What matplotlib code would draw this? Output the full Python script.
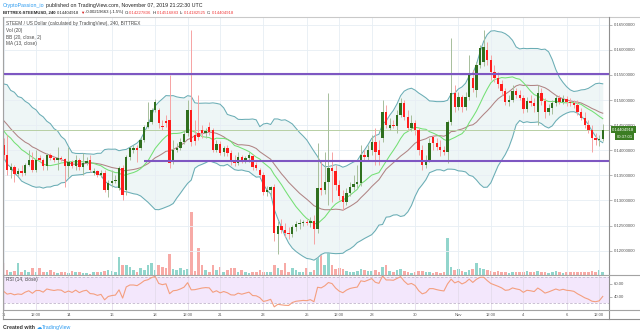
import matplotlib.pyplot as plt
from matplotlib.lines import Line2D
from matplotlib.ticker import FormatStrFormatter
import numpy as np
import pandas as pd

plt.rcParams['font.family'] = ['Liberation Sans', 'DejaVu Sans']

# BITTREX:STEEMUSD, 4h candles, Oct 11 - Nov 7 2019
# closes before Oct 11 (off screen), only used to warm up the indicators
warmup_close = [0.1520, 0.1540, 0.1505, 0.1510, 0.1470, 0.1480, 0.1455, 0.1475, 0.1445, 0.1465,
                0.1440, 0.1455, 0.1432, 0.1450, 0.1425, 0.1445, 0.1420, 0.1440, 0.1425]

open_ = [0.1410, 0.1390, 0.1360, 0.1366, 0.1352, 0.1358, 0.1354, 0.1370, 0.1380, 0.1360,
         0.1384, 0.1380, 0.1368, 0.1390, 0.1384, 0.1380, 0.1384, 0.1382, 0.1368, 0.1376,
         0.1368, 0.1380, 0.1366, 0.1374, 0.1380, 0.1354, 0.1358, 0.1350, 0.1354, 0.1320,
         0.1334, 0.1338, 0.1324, 0.1364, 0.1320, 0.1386, 0.1400, 0.1404, 0.1404, 0.1420,
         0.1446, 0.1456, 0.1480, 0.1480, 0.1448, 0.1458, 0.1460, 0.1380, 0.1400, 0.1404,
         0.1416, 0.1434, 0.1480, 0.1430, 0.1434, 0.1440, 0.1434, 0.1446, 0.1440, 0.1400,
         0.1412, 0.1396, 0.1404, 0.1394, 0.1376, 0.1374, 0.1386, 0.1378, 0.1384, 0.1388,
         0.1370, 0.1360, 0.1350, 0.1316, 0.1320, 0.1326, 0.1234, 0.1250, 0.1242, 0.1236,
         0.1234, 0.1248, 0.1254, 0.1256, 0.1258, 0.1256, 0.1260, 0.1244, 0.1324, 0.1320,
         0.1336, 0.1364, 0.1358, 0.1330, 0.1308, 0.1296, 0.1314, 0.1326, 0.1332, 0.1334,
         0.1390, 0.1386, 0.1400, 0.1416, 0.1400, 0.1424, 0.1476, 0.1444, 0.1450, 0.1448,
         0.1470, 0.1494, 0.1466, 0.1444, 0.1454, 0.1440, 0.1400, 0.1370, 0.1380, 0.1426,
         0.1414, 0.1406, 0.1400, 0.1396, 0.1456, 0.1514, 0.1486, 0.1506, 0.1486, 0.1506,
         0.1544, 0.1520, 0.1570, 0.1576, 0.1600, 0.1580, 0.1556, 0.1544, 0.1532, 0.1518,
         0.1496, 0.1500, 0.1518, 0.1510, 0.1504, 0.1482, 0.1498, 0.1494, 0.1476, 0.1514,
         0.1498, 0.1476, 0.1484, 0.1494, 0.1504, 0.1496, 0.1502, 0.1496, 0.1494, 0.1490,
         0.1476, 0.1464, 0.1450, 0.1440, 0.1424, 0.1420, 0.14227836]

high = [0.1424, 0.1430, 0.1374, 0.1370, 0.1364, 0.1370, 0.1374, 0.1400, 0.1396, 0.1400,
        0.1390, 0.1384, 0.1394, 0.1394, 0.1388, 0.1406, 0.1388, 0.1384, 0.1406, 0.1380,
        0.1390, 0.1384, 0.1394, 0.1386, 0.1390, 0.1364, 0.1360, 0.1360, 0.1360, 0.1340,
        0.1360, 0.1350, 0.1368, 0.1370, 0.1390, 0.1408, 0.1410, 0.1410, 0.1426, 0.1450,
        0.1496, 0.1484, 0.1502, 0.1484, 0.1460, 0.1470, 0.1550, 0.1420, 0.1414, 0.1424,
        0.1440, 0.1500, 0.1640, 0.1460, 0.1510, 0.1450, 0.1444, 0.1456, 0.1444, 0.1420,
        0.1418, 0.1408, 0.1410, 0.1400, 0.1390, 0.1396, 0.1390, 0.1388, 0.1396, 0.1392,
        0.1376, 0.1364, 0.1356, 0.1328, 0.1328, 0.1332, 0.1260, 0.1264, 0.1256, 0.1248,
        0.1252, 0.1260, 0.1264, 0.1262, 0.1264, 0.1268, 0.1270, 0.1414, 0.1380, 0.1396,
        0.1514, 0.1396, 0.1370, 0.1340, 0.1320, 0.1324, 0.1336, 0.1350, 0.1370, 0.1410,
        0.1400, 0.1410, 0.1430, 0.1444, 0.1420, 0.1500, 0.1490, 0.1464, 0.1460, 0.1480,
        0.1504, 0.1500, 0.1480, 0.1470, 0.1460, 0.1444, 0.1410, 0.1390, 0.1424, 0.1430,
        0.1424, 0.1420, 0.1408, 0.1460, 0.1624, 0.1530, 0.1516, 0.1510, 0.1516, 0.1590,
        0.1560, 0.1576, 0.1610, 0.1640, 0.1616, 0.1590, 0.1570, 0.1556, 0.1540, 0.1524,
        0.1510, 0.1530, 0.1524, 0.1520, 0.1510, 0.1506, 0.1510, 0.1504, 0.1530, 0.1524,
        0.1504, 0.1492, 0.1500, 0.1510, 0.1510, 0.1510, 0.1508, 0.1504, 0.1500, 0.1500,
        0.1484, 0.1476, 0.1460, 0.1450, 0.1434, 0.1430, 0.14516883]

low = [0.1380, 0.1350, 0.1344, 0.1336, 0.1348, 0.1348, 0.1350, 0.1368, 0.1356, 0.1356,
       0.1376, 0.1360, 0.1360, 0.1380, 0.1376, 0.1360, 0.1378, 0.1326, 0.1346, 0.1364,
       0.1360, 0.1360, 0.1350, 0.1370, 0.1356, 0.1350, 0.1346, 0.1346, 0.1316, 0.1306,
       0.1326, 0.1334, 0.1320, 0.1300, 0.1310, 0.1380, 0.1394, 0.1376, 0.1400, 0.1416,
       0.1444, 0.1452, 0.1476, 0.1444, 0.1440, 0.1446, 0.1364, 0.1372, 0.1396, 0.1400,
       0.1412, 0.1428, 0.1408, 0.1410, 0.1420, 0.1424, 0.1424, 0.1430, 0.1396, 0.1396,
       0.1390, 0.1388, 0.1388, 0.1370, 0.1368, 0.1370, 0.1374, 0.1374, 0.1376, 0.1360,
       0.1360, 0.1346, 0.1310, 0.1308, 0.1308, 0.1220, 0.1194, 0.1236, 0.1228, 0.1224,
       0.1228, 0.1240, 0.1244, 0.1250, 0.1252, 0.1248, 0.1214, 0.1236, 0.1310, 0.1312,
       0.1290, 0.1296, 0.1320, 0.1300, 0.1280, 0.1290, 0.1308, 0.1320, 0.1324, 0.1328,
       0.1380, 0.1380, 0.1390, 0.1370, 0.1370, 0.1416, 0.1444, 0.1440, 0.1444, 0.1434,
       0.1466, 0.1460, 0.1440, 0.1438, 0.1430, 0.1390, 0.1360, 0.1364, 0.1376, 0.1400,
       0.1400, 0.1388, 0.1390, 0.1374, 0.1450, 0.1476, 0.1480, 0.1476, 0.1480, 0.1500,
       0.1516, 0.1506, 0.1564, 0.1568, 0.1570, 0.1540, 0.1536, 0.1524, 0.1510, 0.1490,
       0.1488, 0.1496, 0.1504, 0.1500, 0.1474, 0.1476, 0.1488, 0.1476, 0.1450, 0.1490,
       0.1464, 0.1470, 0.1472, 0.1488, 0.1492, 0.1492, 0.1488, 0.1488, 0.1484, 0.1470,
       0.1460, 0.1444, 0.1434, 0.1396, 0.1410, 0.1408, 0.14182525]

close = [0.1390, 0.1360, 0.1366, 0.1352, 0.1358, 0.1354, 0.1370, 0.1380, 0.1360, 0.1380,
         0.1380, 0.1368, 0.1390, 0.1384, 0.1380, 0.1384, 0.1382, 0.1368, 0.1376, 0.1368,
         0.1380, 0.1366, 0.1374, 0.1378, 0.1360, 0.1358, 0.1350, 0.1354, 0.1320, 0.1334,
         0.1338, 0.1340, 0.1364, 0.1310, 0.1386, 0.1404, 0.1404, 0.1400, 0.1420, 0.1446,
         0.1456, 0.1480, 0.1496, 0.1454, 0.1446, 0.1454, 0.1374, 0.1400, 0.1404, 0.1416,
         0.1432, 0.1480, 0.1416, 0.1418, 0.1426, 0.1434, 0.1438, 0.1436, 0.1400, 0.1412,
         0.1394, 0.1404, 0.1394, 0.1376, 0.1374, 0.1386, 0.1378, 0.1384, 0.1390, 0.1366,
         0.1364, 0.1350, 0.1316, 0.1320, 0.1326, 0.1236, 0.1250, 0.1242, 0.1236, 0.1234,
         0.1248, 0.1254, 0.1256, 0.1258, 0.1256, 0.1260, 0.1244, 0.1324, 0.1320, 0.1336,
         0.1364, 0.1358, 0.1330, 0.1308, 0.1296, 0.1314, 0.1326, 0.1332, 0.1336, 0.1390,
         0.1386, 0.1400, 0.1416, 0.1396, 0.1390, 0.1476, 0.1450, 0.1450, 0.1448, 0.1470,
         0.1494, 0.1466, 0.1444, 0.1454, 0.1440, 0.1400, 0.1370, 0.1380, 0.1414, 0.1414,
         0.1406, 0.1400, 0.1396, 0.1456, 0.1514, 0.1486, 0.1506, 0.1486, 0.1506, 0.1550,
         0.1524, 0.1570, 0.1604, 0.1606, 0.1580, 0.1556, 0.1544, 0.1532, 0.1518, 0.1496,
         0.1500, 0.1518, 0.1510, 0.1504, 0.1482, 0.1498, 0.1494, 0.1488, 0.1514, 0.1498,
         0.1476, 0.1484, 0.1494, 0.1504, 0.1496, 0.1502, 0.1496, 0.1494, 0.1490, 0.1476,
         0.1464, 0.1450, 0.1440, 0.1424, 0.1420, 0.1423, 0.14404918]

# relative volume (no scale shown on the chart)
volume = [12, 5, 3, 4, 12, 3, 5, 3, 7, 3, 7, 3, 3, 5, 3, 2, 3, 3, 2, 4,
          3, 3, 2, 2, 1, 3, 3, 3, 4, 5, 4, 3, 18, 10, 10, 8, 5, 3, 7, 5,
          10, 12, 5, 10, 8, 7, 21, 6, 5, 7, 5, 6, 63, 4, 27, 10, 5, 3, 10, 5,
          8, 3, 5, 7, 7, 3, 5, 3, 2, 3, 3, 5, 3, 3, 3, 10, 7, 5, 12, 3,
          7, 5, 3, 3, 7, 3, 5, 20, 28, 10, 35, 10, 6, 7, 6, 4, 3, 3, 4, 6,
          5, 4, 4, 5, 3, 8, 10, 4, 3, 5, 6, 4, 3, 2, 3, 4, 4, 3, 3, 2,
          3, 2, 3, 37, 8, 5, 6, 4, 3, 5, 6, 12, 7, 6, 5, 4, 3, 4, 3, 3,
          2, 3, 3, 3, 3, 4, 3, 3, 4, 3, 3, 2, 3, 4, 3, 2, 3, 3, 3, 3,
          3, 3, 3, 4, 3, 5, 3]

tick_pos = [0, 9, 18, 30, 42, 51, 60, 72, 84, 93, 102, 114, 126, 135, 144, 156, 165]
tick_labels = ['11', '12:00', '14', '16', '18', '12:00', '21', '23', '25', '12:00',
               '28', '30', 'Nov', '12:00', '4', '6', '12:00']

resistance = 0.1551
support = 0.1378
support_start = 38.9

# indicators: BB(20, 2), MA(13), RSI(14)
allc = pd.Series(warmup_close + close)
n0 = len(warmup_close)
basis = allc.rolling(20).mean()
dev = allc.rolling(20).std(ddof=0)
bb_up = (basis + 2 * dev).values[n0:]
bb_lo = (basis - 2 * dev).values[n0:]
basis = basis.values[n0:]
ma13 = allc.rolling(13).mean().values[n0:]
delta = allc.diff()
gain = delta.clip(lower=0).ewm(alpha=1 / 14, adjust=False).mean()
loss = (-delta.clip(upper=0)).ewm(alpha=1 / 14, adjust=False).mean()
rsi = (100 - 100 / (1 + gain / loss)).values[n0:]

o = np.array(open_)
h = np.array(high)
l = np.array(low)
c = np.array(close)
x = np.arange(len(c))
up = c >= o

W, H = 640, 334
fig = plt.figure(figsize=(W / 100, H / 100), dpi=100)
fig.patch.set_facecolor('white')


def box(x0, y0, x1, y1):
    return [x0 / W, 1 - y1 / H, (x1 - x0) / W, (y1 - y0) / H]


def fline(x0, y0, x1, y1, color='#a3a3a3', lw=0.8):
    fig.add_artist(Line2D([x0 / W, x1 / W], [1 - y0 / H, 1 - y1 / H],
                          transform=fig.transFigure, color=color, lw=lw))


xlim = (-0.14, 167.73)

# main price pane
ax = fig.add_axes(box(3, 17, 609, 274.5))
axv = ax.twinx()
axv.set_zorder(ax.get_zorder() - 1)
ax.patch.set_visible(False)
axv.patch.set_visible(False)

axv.bar(x, volume, width=0.72, color=np.where(up, '#92d5cc', '#f7aaa6'), lw=0)
axv.set_ylim(0, 257.5)
axv.set_yticks([])
for s in axv.spines.values():
    s.set_visible(False)

ax.fill_between(x, bb_lo, bb_up, color='#eef6f6', lw=0, zorder=1)
ax.plot(x, bb_up, color='#6aadb5', lw=0.75, zorder=2)
ax.plot(x, bb_lo, color='#6aadb5', lw=0.75, zorder=2)
ax.plot(x, basis, color='#b08484', lw=0.75, zorder=2)
ax.plot(x, ma13, color='#74e074', lw=0.75, zorder=2)

ax.axhline(c[-1], color='#b7cfa4', lw=0.7, zorder=2)
ax.axhline(resistance, color='#7e57c2', lw=1.5, zorder=5)
ax.hlines(support, support_start, xlim[1], color='#7e57c2', lw=1.5, zorder=5)

ax.vlines(x, l, h, colors=np.where(up, '#a7bf9c', '#f6a3a3'), lw=0.7, zorder=3)
body = np.maximum(np.abs(c - o), 0.00012)
ax.bar(x, body, bottom=np.minimum(o, c), width=0.66,
       color=np.where(up, '#2f6f1e', '#ff1c1c'), lw=0, zorder=4)

ax.set_xlim(*xlim)
ax.set_ylim(0.11525, 0.16653)
ax.set_xticks(tick_pos)
ax.set_xticklabels([])
ax.set_yticks(np.arange(0.120, 0.1651, 0.005))
ax.yaxis.tick_right()
ax.yaxis.set_major_formatter(FormatStrFormatter('%.8f'))
ax.tick_params(axis='x', length=0)
ax.tick_params(axis='y', length=2, width=0.5, color='#9a9a9a', labelsize=3.1,
               labelcolor='#555555', pad=1.5)
ax.grid(True, color='#e7eef4', lw=0.6, zorder=0)
for s in ax.spines.values():
    s.set_visible(False)

ax.annotate(f'{c[-1]:.8f}', xy=(1, c[-1]), xycoords=('axes fraction', 'data'),
            xytext=(2.2, 0), textcoords='offset points', va='center', ha='left',
            fontsize=3.1, color='white',
            bbox=dict(boxstyle='square,pad=0.35', fc='#3b7d23', ec='none'))
ax.annotate('00:37:01', xy=(1, c[-1]), xycoords=('axes fraction', 'data'),
            xytext=(5.5, -4.8), textcoords='offset points', va='center', ha='left',
            fontsize=3.1, color='white',
            bbox=dict(boxstyle='square,pad=0.35', fc='#3b7d23', ec='none'))

# RSI pane
axr = fig.add_axes(box(3, 274.5, 609, 310))
axr.axhspan(30, 70, color='#f3e7fc', lw=0)
axr.axhline(70, color='#c2b6cc', lw=0.6, ls=(0, (3, 2)))
axr.axhline(30, color='#c2b6cc', lw=0.6, ls=(0, (3, 2)))
axr.plot(x, rsi, color='#f39f7f', lw=0.8)
axr.set_xlim(*xlim)
axr.set_ylim(19.1, 74.25)
axr.set_xticks(tick_pos)
axr.set_xticklabels(tick_labels)
axr.set_yticks([40, 60])
axr.yaxis.tick_right()
axr.yaxis.set_major_formatter(FormatStrFormatter('%.2f'))
axr.tick_params(axis='x', length=0, labelsize=3.0, labelcolor='#555555', pad=2.0)
axr.tick_params(axis='y', length=2, width=0.5, color='#9a9a9a', labelsize=3.1,
                labelcolor='#555555', pad=1.5)
axr.grid(True, axis='x', color='#e4dcec', lw=0.6)
for s in axr.spines.values():
    s.set_visible(False)

# frame lines
fline(3, 16.5, 640, 16.5, color='#c9c9c9')
fline(3, 16.5, 3, 318.5)
fline(609, 16.5, 609, 318.5, color='#8f8f8f')
fline(3, 274.5, 640, 274.5)
fline(3, 310, 640, 310)
fline(3, 318.5, 640, 318.5, color='#8f8f8f')


# text pieces written one after another
def chain(x0, y0, pieces, size):
    r = fig.canvas.get_renderer()
    xx = x0
    for s, color, weight, gap in pieces:
        t = fig.text(xx / W, 1 - y0 / H, s, color=color, fontsize=size,
                     fontweight=weight, va='center', ha='left')
        xx = t.get_window_extent(renderer=r).x1 + gap


red = '#f03a3a'
dark = '#222222'
chain(3, 5.5, [('CryptoPassion_io', '#2a9af0', 'normal', 1.2),
               ('published on TradingView.com, November 07, 2019 21:22:30 UTC', dark, 'normal', 0)], 3.8)
chain(3, 12.5, [('BITTREX:STEEMUSD, 240', dark, 'bold', 1.5),
                ('0.14404918', dark, 'normal', 1.0),
                ('\u25bc', '#d41f1f', 'normal', 0.6),
                ('-0.00219663 (-1.5%)', dark, 'normal', 1.0),
                ('O:', dark, 'normal', 0.2), ('0.14227836', red, 'normal', 1.0),
                ('H:', dark, 'normal', 0.2), ('0.14516883', red, 'normal', 1.0),
                ('L:', dark, 'normal', 0.2), ('0.14182525', red, 'normal', 1.0),
                ('C:', dark, 'normal', 0.2), ('0.14404918', red, 'normal', 0)], 3.1)

legend_lines = ['STEEM / US Dollar (calculated by TradingView), 240, BITTREX',
                'Vol (20)', 'BB (20, close, 2)', 'MA (13, close)']
for k, s in enumerate(legend_lines):
    fig.text(6 / W, 1 - (24 + 6.5 * k) / H, s, fontsize=3.4, color='#4a4a4a', va='center')
fig.text(6 / W, 1 - 279.5 / H, 'RSI (14, close)', fontsize=3.4, color='#4a4a4a', va='center')

chain(3, 327.5, [('Created with', '#333333', 'bold', 1.5),
                 ('\u2601', '#2a9af0', 'normal', 0.6),
                 ('TradingView', '#2a9af0', 'normal', 0)], 3.8)

plt.savefig('out.png', dpi=100)
